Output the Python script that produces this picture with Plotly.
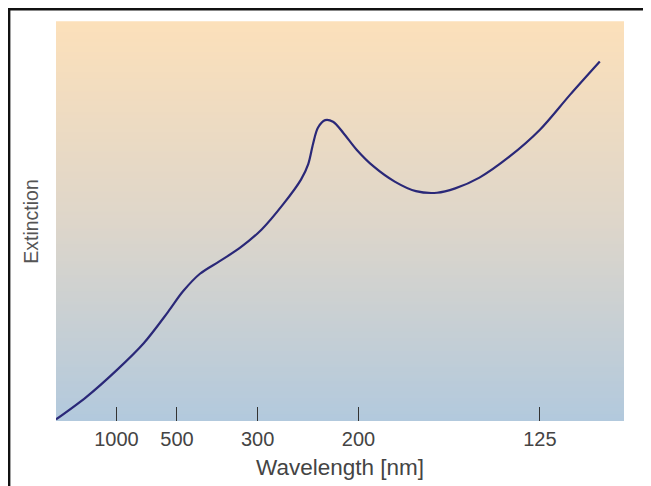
import plotly.graph_objects as go

# inverse wavelength (1/µm) and extinction (arbitrary units)
inv_wavelength = [0.0, 0.5, 1.0, 1.45, 1.85, 2.1, 2.38, 2.7, 3.05, 3.4, 3.76, 4.05,
                  4.17, 4.25, 4.33, 4.45, 4.58, 4.75, 4.97, 5.25, 5.6, 5.95, 6.3,
                  6.6, 7.0, 7.5, 8.0, 8.5, 8.99]
extinction = [0.04, 0.60, 1.27, 1.95, 2.73, 3.25, 3.69, 4.0, 4.35, 4.8, 5.44, 6.05,
              6.44, 6.95, 7.35, 7.54, 7.50, 7.22, 6.80, 6.38, 6.00, 5.76, 5.72,
              5.83, 6.10, 6.63, 7.30, 8.18, 9.01]

tick_wavelengths_nm = [1000, 500, 300, 200, 125]
tick_labels = ["1000", "500", "300", "200", "125"]
tick_positions = [1000.0 / w for w in tick_wavelengths_nm]

fig = go.Figure()
fig.add_trace(go.Scatter(
    x=inv_wavelength, y=extinction, mode="lines",
    line=dict(color="#2a2878", width=2.2, shape="spline", smoothing=0.9),
    hoverinfo="skip", showlegend=False))

# vertical gradient background (light blue -> beige -> peach)
stops = [(0.0, (178, 201, 221)), (0.5, (222, 214, 202)), (1.0, (252, 224, 186))]
def col(t):
    for (t0, c0), (t1, c1) in zip(stops[:-1], stops[1:]):
        if t <= t1:
            f = (t - t0) / (t1 - t0)
            return "rgb(%d,%d,%d)" % tuple(round(a + (b - a) * f) for a, b in zip(c0, c1))
    return "rgb(%d,%d,%d)" % stops[-1][1]

shapes = []
n = 120
for i in range(n):
    shapes.append(dict(type="rect", xref="paper", yref="paper", x0=0, x1=1,
                       y0=i / n, y1=(i + 1) / n + 0.002, layer="below",
                       fillcolor=col((i + 0.5) / n), line=dict(width=0)))
# outer frame (top and left edges visible)
shapes.append(dict(type="rect", xref="paper", yref="paper",
                   x0=-0.0825, x1=1.3, y0=-0.4, y1=1.032,
                   line=dict(color="#111111", width=2.5), fillcolor="rgba(0,0,0,0)"))

fig.update_layout(
    width=651, height=486,
    margin=dict(l=48, r=35, t=14, b=73),
    paper_bgcolor="white", plot_bgcolor="rgba(0,0,0,0)",
    font=dict(family="Liberation Sans, Arial, sans-serif", color="#444444"),
    shapes=shapes,
    xaxis=dict(range=[0, 9.39], showgrid=False, zeroline=False, showline=False,
               tickmode="array", tickvals=tick_positions, ticktext=tick_labels,
               ticks="inside", ticklen=14, tickwidth=1.2, tickcolor="#333333",
               ticklabelstandoff=4,
               tickfont=dict(size=20, color="#444444"),
               title=dict(text="Wavelength [nm]", font=dict(size=22.5, color="#444444"),
                          standoff=10)),
    yaxis=dict(range=[0, 10], showgrid=False, zeroline=False, showline=False,
               showticklabels=False, ticks="",
               title=dict(text="Extinction", font=dict(size=19.5, color="#555555"),
                          standoff=11)),
)

fig.write_html("out.html")
